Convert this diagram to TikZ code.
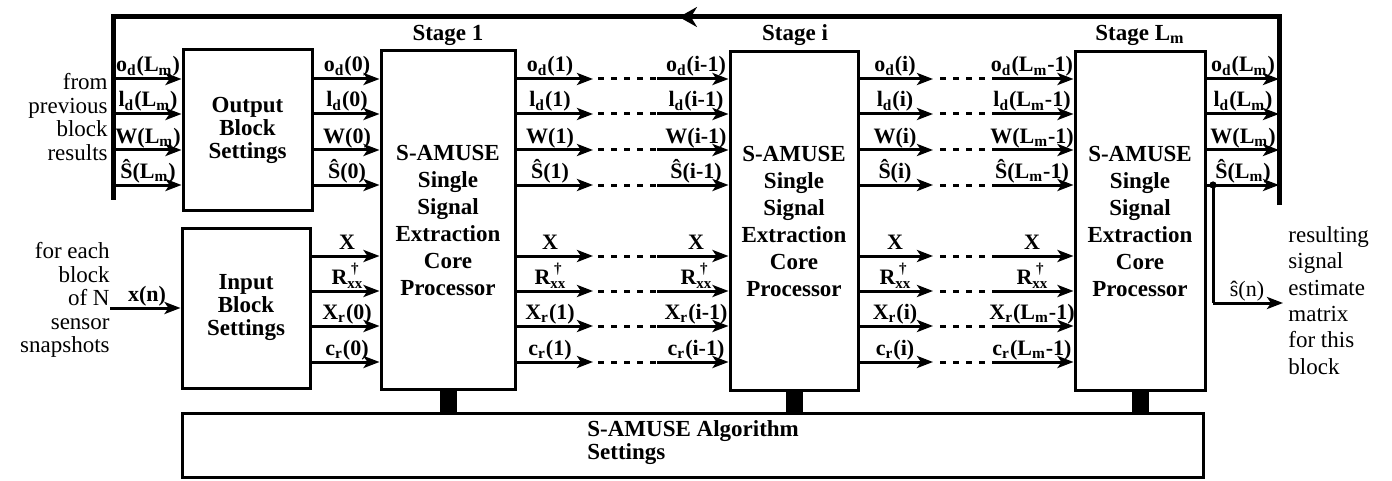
\documentclass[tikz,border=0pt]{standalone}
\usepackage{fontspec}
\setmainfont{Liberation Serif}
\usetikzlibrary{arrows.meta,decorations.markings}
\newcommand{\lbL}{L\textsubscript{m}}
\newcommand{\lbOd}[1]{o\textsubscript{d}(#1)}
\newcommand{\lbLd}[1]{l\textsubscript{d}(#1)}
\newcommand{\lbW}[1]{W(#1)}
\newcommand{\lbS}[1]{\^{S}(#1)}
\newcommand{\lbXr}[1]{X\textsubscript{r}(#1)}
\newcommand{\lbCr}[1]{c\textsubscript{r}(#1)}
\newcommand{\lbR}{R\raisebox{-2.2pt}{\fontsize{7.5}{7.5}\selectfont\shortstack[c]{\textdagger\\xx}}}
\newcommand{\uplab}[2]{\ifcase#1\or\lbOd{#2}\or\lbLd{#2}\or\lbW{#2}\or\lbS{#2}\fi}
\newcommand{\lolab}[2]{\ifcase#1\or X\or\lbR\or\lbXr{#2}\or\lbCr{#2}\fi}
\begin{document}
\begin{tikzpicture}[x=0.5pt,y=-0.5pt,
  box/.style={draw, line width=1.5pt, inner sep=0pt, align=center,
    font=\bfseries\fontsize{11.5}{13.5}\selectfont},
  sbox/.style={box, font=\bfseries\fontsize{11.5}{11.5}\selectfont},
  arr/.style={line width=1.5pt, -{Stealth[length=8pt,width=6pt,inset=2pt]}},
  dsh/.style={line width=1.5pt, dash pattern=on 3pt off 3.5pt},
  plain/.style={line width=1.5pt},
  lbl/.style={font=\bfseries\fontsize{11}{13}\selectfont, inner sep=0pt, anchor=base},
  stg/.style={font=\bfseries\fontsize{11.5}{13}\selectfont, inner sep=0pt},
  fb/.style={line width=2.5pt, line join=miter},
  bar/.style={line width=8.5pt},
  lside/.style={font=\fontsize{11.5}{11.75}\selectfont, inner sep=0pt, anchor=east, align=right},
  rside/.style={font=\fontsize{11.5}{13.2}\selectfont, inner sep=0pt, anchor=west}
]
\useasboundingbox (0,0) rectangle (1392,481);

% blocks
\node[sbox, minimum width=64.5pt, minimum height=80pt] (ob) at (247.5,130) {Output\\Block\\Settings};
\node[sbox, minimum width=64pt, minimum height=80pt] (ib) at (246,308) {Input\\Block\\Settings};
\node[box, minimum width=67pt, minimum height=169pt] (s1) at (448,220) {S-AMUSE\\Single\\Signal\\Extraction\\Core\\Processor};
\node[box, minimum width=64pt, minimum height=169pt] (si) at (794,221) {S-AMUSE\\Single\\Signal\\Extraction\\Core\\Processor};
\node[box, minimum width=65pt, minimum height=169pt] (sl) at (1140,221) {S-AMUSE\\Single\\Signal\\Extraction\\Core\\Processor};
\node[box, minimum width=510.5pt, minimum height=32pt] (alg) at (692.5,445) {};
\node[anchor=west, align=left, inner sep=0pt, font=\bfseries\fontsize{11.5}{11.5}\selectfont] (algt) at (587,443) {S-AMUSE Algorithm\\Settings};

% stage labels
\node[stg] (st1) at (448,35) {Stage 1};
\node[stg] (sti) at (795,35) {Stage i};
\node[stg] (stl) at (1140,35) {Stage \lbL};

% bars to algorithm settings
\draw[bar] (s1.south) -- (s1.south |- alg.north);
\draw[bar] (si.south) -- (si.south |- alg.north);
\draw[bar] (sl.south) -- (sl.south |- alg.north);

% feedback loop
\coordinate (rb) at (1279,205);
\coordinate (rt) at (1279,17);
\coordinate (lt) at (113,17);
\coordinate (lbot) at (113,200);
\draw[fb, postaction={decorate}, decoration={markings,
  mark=at position 0.5127 with {\arrow{Stealth[length=9pt,width=10pt,inset=3pt]}}}]
  (rb) -- (rt) -- (lt) -- (lbot);

% upper signal rows
\foreach \yy [count=\k] in {79,114,150,185} {
  \draw[arr] (lt |- 0,\yy) -- (ob.west |- 0,\yy);
  \node[lbl] at (148,\yy-7) {\uplab{\k}{\lbL}};
  \draw[arr] (ob.east |- 0,\yy) -- (s1.west |- 0,\yy);
  \node[lbl] at (347,\yy-7) {\uplab{\k}{0}};
  \coordinate (ua\k) at (593,\yy);
  \coordinate (ub\k) at (598,\yy);
  \coordinate (uc\k) at (657,\yy);
  \draw[arr] (s1.east |- 0,\yy) -- (ua\k);
  \draw[dsh] (ub\k) -- (uc\k);
  \draw[arr] (uc\k) -- (si.west |- 0,\yy);
  \node[lbl] at (550,\yy-7) {\uplab{\k}{1}};
  \node[lbl] at (696,\yy-7) {\uplab{\k}{i-1}};
  \coordinate (ud\k) at (933,\yy);
  \coordinate (ue\k) at (940,\yy);
  \coordinate (uf\k) at (995,\yy);
  \draw[arr] (si.east |- 0,\yy) -- (ud\k);
  \draw[dsh] (ue\k) -- (uf\k);
  \draw[arr] (uf\k) -- (sl.west |- 0,\yy);
  \node[lbl] at (895,\yy-7) {\uplab{\k}{i}};
  \node[lbl] at (1032,\yy-7) {\uplab{\k}{\lbL-1}};
  \draw[arr] (sl.east |- 0,\yy) -- (rt |- 0,\yy);
  \node[lbl] at (1243,\yy-7) {\uplab{\k}{\lbL}};
}

% lower signal rows
\foreach \yy [count=\k] in {256,291,326,362} {
  \draw[arr] (ib.east |- 0,\yy) -- (s1.west |- 0,\yy);
  \node[lbl] at (347,\yy-7) {\lolab{\k}{0}};
  \coordinate (la\k) at (593,\yy);
  \coordinate (lb\k) at (598,\yy);
  \coordinate (lc\k) at (657,\yy);
  \draw[arr] (s1.east |- 0,\yy) -- (la\k);
  \draw[dsh] (lb\k) -- (lc\k);
  \draw[arr] (lc\k) -- (si.west |- 0,\yy);
  \node[lbl] at (550,\yy-7) {\lolab{\k}{1}};
  \node[lbl] at (696,\yy-7) {\lolab{\k}{i-1}};
  \coordinate (ld\k) at (933,\yy);
  \coordinate (le\k) at (940,\yy);
  \coordinate (lf\k) at (995,\yy);
  \draw[arr] (si.east |- 0,\yy) -- (ld\k);
  \draw[dsh] (le\k) -- (lf\k);
  \draw[arr] (lf\k) -- (sl.west |- 0,\yy);
  \node[lbl] at (895,\yy-7) {\lolab{\k}{i}};
  \node[lbl] at (1032,\yy-7) {\lolab{\k}{\lbL-1}};
}

% input x(n)
\coordinate (xin) at (110,308);
\draw[arr] (xin) -- (ib.west);
\node[lbl] (xl) at (147,301) {x(n)};

% output branch s(n)
\coordinate (jn) at (1213,185);
\coordinate (jb) at (1213,303);
\coordinate (sout) at (1283,303);
\fill (jn) circle (1.8pt);
\draw[plain] (jn) -- (jb);
\draw[arr] (jb) -- (sout);
\node[lbl, font=\fontsize{11}{13}\selectfont] (sl2) at (1247,296) {\^{s}(n)};

% side texts
\node[lside] (from) at (108,117) {from\\previous\\block\\results};
\node[lside] (forx) at (110,300) {for each\\block\\of N\\sensor\\snapshots};
\node[rside] (res) at (1288,303) {\begin{tabular}{@{}l@{}}resulting\\signal\\estimate\\matrix\\for this\\block\end{tabular}};
\end{tikzpicture}
\end{document}
